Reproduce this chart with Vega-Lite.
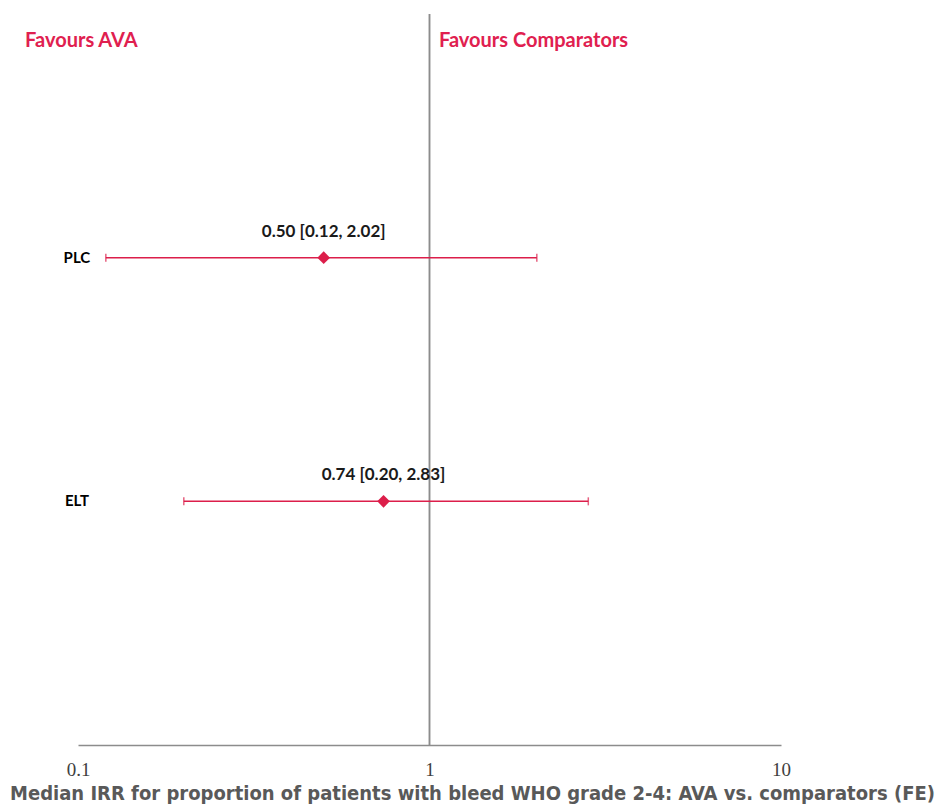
{
  "$schema": "https://vega.github.io/schema/vega-lite/v6.json",
  "width": 703,
  "height": 731,
  "autosize": {"type": "none"},
  "padding": {"left": 78, "top": 14, "right": 158, "bottom": 62},
  "background": "white",
  "config": {"view": {"stroke": null}},
  "datasets": {
    "estimates": [
      {"comparator": "PLC", "row": 2, "irr": 0.50, "lo": 0.12, "hi": 2.02, "label": "0.50 [0.12, 2.02]"},
      {"comparator": "ELT", "row": 1, "irr": 0.74, "lo": 0.20, "hi": 2.83, "label": "0.74 [0.20, 2.83]"}
    ],
    "sides": [
      {"side": "Favours AVA", "at": 0.0707, "row": 2.889},
      {"side": "Favours Comparators", "at": 1.064, "row": 2.889}
    ]
  },
  "data": {"name": "estimates"},
  "layer": [
    {
      "mark": {"type": "rule", "color": "#8c8c8c", "strokeWidth": 1.5},
      "encoding": {
        "x": {
          "datum": 1,
          "type": "quantitative",
          "scale": {"type": "log", "domain": [0.1, 10]},
          "axis": {
            "values": [0.1, 1, 10],
            "format": "~g",
            "grid": false,
            "ticks": false,
            "labelFlush": false,
            "domainColor": "#8c8c8c",
            "domainWidth": 1.5,
            "labelFont": "Liberation Serif",
            "labelFontSize": 19,
            "labelColor": "#404040",
            "labelPadding": 15,
            "title": "Median IRR for proportion of patients with bleed WHO grade 2-4: AVA vs. comparators (FE)",
            "titleFont": "DejaVu Sans Condensed",
            "titleFontSize": 20,
            "titleFontWeight": "bold",
            "titleColor": "#595959",
            "titlePadding": 4,
            "titleX": 394,
            "titleAlign": "center"
          }
        },
        "y": {"datum": 0, "type": "quantitative", "scale": {"domain": [0, 3]}, "axis": null},
        "y2": {"datum": 3}
      }
    },
    {
      "mark": {"type": "rule", "color": "#dc1e4a", "strokeWidth": 1.5},
      "encoding": {
        "x": {"field": "lo", "type": "quantitative"},
        "x2": {"field": "hi"},
        "y": {"field": "row", "type": "quantitative"}
      }
    },
    {
      "mark": {"type": "tick", "orient": "vertical", "color": "#dc1e4a", "size": 8, "thickness": 1.5},
      "encoding": {
        "x": {"field": "lo", "type": "quantitative"},
        "y": {"field": "row", "type": "quantitative"}
      }
    },
    {
      "mark": {"type": "tick", "orient": "vertical", "color": "#dc1e4a", "size": 8, "thickness": 1.5},
      "encoding": {
        "x": {"field": "hi", "type": "quantitative"},
        "y": {"field": "row", "type": "quantitative"}
      }
    },
    {
      "mark": {"type": "point", "shape": "diamond", "filled": true, "color": "#dc1e4a", "size": 160, "opacity": 1},
      "encoding": {
        "x": {"field": "irr", "type": "quantitative"},
        "y": {"field": "row", "type": "quantitative"}
      }
    },
    {
      "mark": {"type": "text", "font": "Lato", "fontWeight": "bold", "fontSize": 17, "color": "#1a1a1a", "dy": -26, "align": "center"},
      "encoding": {
        "x": {"field": "irr", "type": "quantitative"},
        "y": {"field": "row", "type": "quantitative"},
        "text": {"field": "label"}
      }
    },
    {
      "mark": {"type": "text", "font": "Lato", "fontWeight": "bold", "fontSize": 15, "color": "#000000", "align": "center"},
      "encoding": {
        "x": {"datum": 0.0993, "type": "quantitative"},
        "y": {"field": "row", "type": "quantitative"},
        "text": {"field": "comparator"}
      }
    },
    {
      "data": {"name": "sides"},
      "mark": {"type": "text", "font": "Lato", "fontWeight": "bold", "fontSize": 20, "color": "#e0204f", "align": "left"},
      "encoding": {
        "x": {"field": "at", "type": "quantitative"},
        "y": {"field": "row", "type": "quantitative"},
        "text": {"field": "side"}
      }
    }
  ]
}
